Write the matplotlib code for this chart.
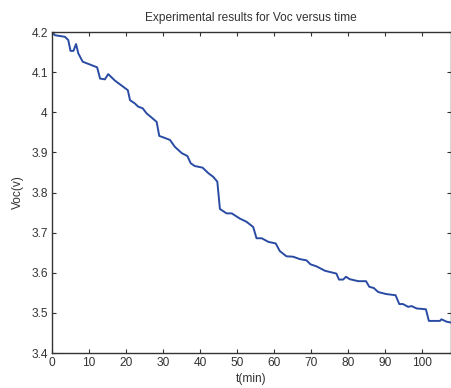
import numpy as np
import matplotlib.pyplot as plt
from matplotlib.ticker import FuncFormatter

# 读图估计的实验数据
t_min = [0, 0.8, 3.5, 4.4, 5.0, 5.8, 6.5, 7.1, 8.3, 12.2, 13.0, 14.3, 15.2, 17.0,
         20.5, 21.1, 22.4, 23.3, 24.5, 25.6, 26.9, 28.3, 29.0, 30.5, 31.9, 33.2,
         35.1, 36.6, 37.5, 38.6, 40.7, 42.3, 43.6, 44.7, 45.4, 47.2, 48.6, 50.8,
         52.6, 54.4, 55.3, 56.7, 58.5, 60.5, 61.6, 63.4, 65.2, 67.0, 68.8, 69.9,
         71.5, 73.8, 75.1, 76.9, 77.6, 78.7, 79.5, 80.5, 82.8, 84.9, 85.8, 87.0,
         88.2, 90.3, 92.9, 93.9, 94.9, 96.3, 97.2, 98.6, 101.1, 101.9, 104.9,
         105.3, 106.7, 107.8]
voc = [4.200, 4.192, 4.188, 4.180, 4.153, 4.153, 4.170, 4.147, 4.126, 4.112,
       4.084, 4.082, 4.095, 4.079, 4.055, 4.030, 4.022, 4.014, 4.010, 3.997,
       3.987, 3.976, 3.941, 3.936, 3.931, 3.914, 3.898, 3.891, 3.873, 3.866,
       3.862, 3.848, 3.839, 3.827, 3.759, 3.748, 3.748, 3.735, 3.727, 3.714,
       3.686, 3.686, 3.677, 3.673, 3.654, 3.641, 3.640, 3.634, 3.631, 3.621,
       3.616, 3.605, 3.602, 3.598, 3.583, 3.583, 3.590, 3.584, 3.579, 3.579,
       3.565, 3.562, 3.552, 3.547, 3.544, 3.522, 3.522, 3.515, 3.517, 3.511,
       3.509, 3.480, 3.480, 3.484, 3.478, 3.476]

x_ticks = [0, 10, 20, 30, 40, 50, 60, 70, 80, 90, 100]
y_ticks = [3.4, 3.5, 3.6, 3.7, 3.8, 3.9, 4.0, 4.1, 4.2]

plt.rcParams['font.family'] = ['Liberation Sans', 'DejaVu Sans']
txt_color = '#333333'
fs = 8.6

fig = plt.figure(figsize=(4.51, 3.88), dpi=100)
ax = fig.add_axes([0.1153, 0.0902, 0.884, 0.8273])

ax.plot(t_min, voc, color='#2a4ba3', linewidth=1.4)

ax.set_xlim(0, 107.8)
ax.set_ylim(3.4, 4.2)
ax.set_xticks(x_ticks)
ax.set_yticks(y_ticks)
ax.yaxis.set_major_formatter(FuncFormatter(lambda v, p: '%g' % round(v, 2)))

# MATLAB风格：刻度朝内，四边都有
ax.tick_params(direction='in', top=True, right=True, length=3, width=0.8,
               labelsize=fs, colors=txt_color, pad=3)
for s in ax.spines.values():
    s.set_color(txt_color)
    s.set_linewidth(1.0)

ax.set_title('Experimental results for Voc versus time', fontsize=fs,
             color=txt_color, pad=8)
ax.set_xlabel('t(min)', fontsize=fs, color=txt_color, labelpad=3)
ax.set_ylabel('Voc(v)', fontsize=fs, color=txt_color, labelpad=5)

fig.savefig('out.png', dpi=100)
